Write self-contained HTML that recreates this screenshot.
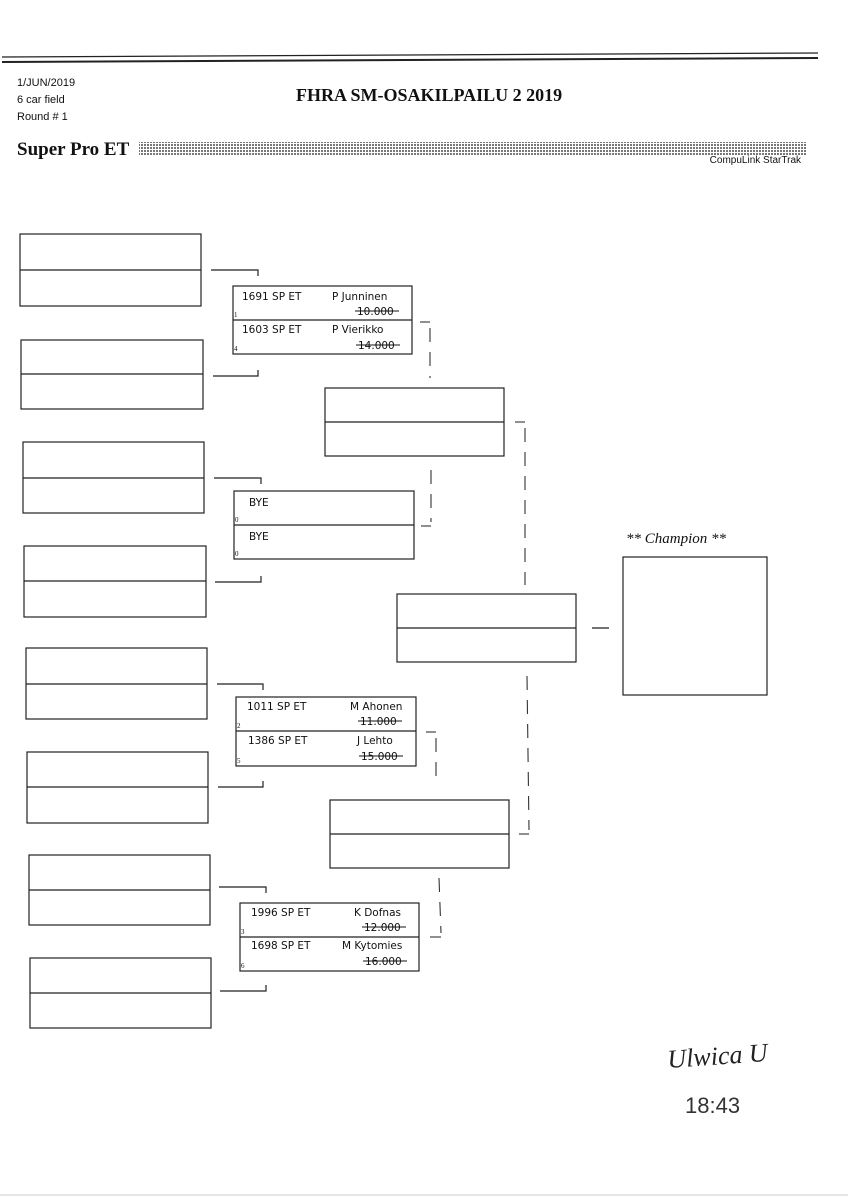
<!DOCTYPE html>
<html><head><meta charset="utf-8"><style>
html,body{margin:0;padding:0;background:#fff;}
svg{display:block}
</style></head><body>
<svg width="848" height="1200" viewBox="0 0 848 1200" xmlns="http://www.w3.org/2000/svg">
<defs>
<pattern id="dots" width="3" height="3" patternUnits="userSpaceOnUse"><rect width="3" height="3" fill="#fff"/><rect width="2" height="2" fill="#777"/></pattern>
</defs>
<rect width="848" height="1200" fill="#fff"/>
<line x1="2" y1="57" x2="818" y2="53" stroke="#222" stroke-width="1.2"/>
<line x1="2" y1="62" x2="818" y2="58" stroke="#222" stroke-width="2"/>
<g font-family="Liberation Sans Narrow, Liberation Sans, sans-serif" font-size="11" fill="#111">
<text x="17" y="86">1/JUN/2019</text>
<text x="17" y="103">6 car field</text>
<text x="17" y="120">Round # 1</text>
<text x="801" y="163" font-size="10" text-anchor="end">CompuLink StarTrak</text>
</g>
<text x="296" y="101" font-family="Liberation Serif, serif" font-weight="bold" font-size="18" fill="#111">FHRA SM-OSAKILPAILU 2 2019</text>
<text x="17" y="155" font-family="Liberation Serif, serif" font-weight="bold" font-size="19" fill="#111">Super Pro ET</text>
<rect x="139" y="142" width="668" height="13" fill="url(#dots)"/>

<g fill="none" stroke="#222" stroke-width="1.2">
<rect x="20" y="234" width="181" height="72"/><line x1="20" y1="270" x2="201" y2="270"/>
<rect x="21" y="340" width="182" height="69"/><line x1="21" y1="374" x2="203" y2="374"/>
<rect x="23" y="442" width="181" height="71"/><line x1="23" y1="478" x2="204" y2="478"/>
<rect x="24" y="546" width="182" height="71"/><line x1="24" y1="581" x2="206" y2="581"/>
<rect x="26" y="648" width="181" height="71"/><line x1="26" y1="684" x2="207" y2="684"/>
<rect x="27" y="752" width="181" height="71"/><line x1="27" y1="787" x2="208" y2="787"/>
<rect x="29" y="855" width="181" height="70"/><line x1="29" y1="890" x2="210" y2="890"/>
<rect x="30" y="958" width="181" height="70"/><line x1="30" y1="993" x2="211" y2="993"/>
<polyline points="211,270 258,270 258,276"/>
<polyline points="213,376 258,376 258,370"/>
<polyline points="214,478 261,478 261,484"/>
<polyline points="215,582 261,582 261,576"/>
<polyline points="217,684 263,684 263,690"/>
<polyline points="218,787 263,787 263,781"/>
<polyline points="219,887 266,887 266,893"/>
<polyline points="220,991 266,991 266,985"/>
<rect x="233" y="286" width="179" height="68"/><line x1="233" y1="320" x2="412" y2="320"/>
<rect x="234" y="491" width="180" height="68"/><line x1="234" y1="525" x2="414" y2="525"/>
<rect x="236" y="697" width="180" height="69"/><line x1="236" y1="731" x2="416" y2="731"/>
<rect x="240" y="903" width="179" height="68"/><line x1="240" y1="937" x2="419" y2="937"/>
<rect x="325" y="388" width="179" height="68"/><line x1="325" y1="422" x2="504" y2="422"/>
<rect x="330" y="800" width="179" height="68"/><line x1="330" y1="834" x2="509" y2="834"/>
<rect x="397" y="594" width="179" height="68"/><line x1="397" y1="628" x2="576" y2="628"/>
<line x1="592" y1="628" x2="609" y2="628"/>
<rect x="623" y="557" width="144" height="138"/>
</g>
<g fill="none" stroke="#333" stroke-width="1.1">
<line x1="420" y1="322" x2="430" y2="322"/>
<line x1="421" y1="526" x2="431" y2="526"/>
<line x1="515" y1="422" x2="525" y2="422"/>
<line x1="519" y1="834" x2="529" y2="834"/>
<line x1="426" y1="732" x2="436" y2="732"/>
<line x1="430" y1="937" x2="441" y2="937"/>
</g>
<g fill="none" stroke="#333" stroke-width="1.1" stroke-dasharray="14 10">
<line x1="430" y1="328" x2="430" y2="378"/>
<line x1="431" y1="470" x2="431" y2="522"/>
<line x1="525" y1="428" x2="525" y2="585"/>
<line x1="527" y1="676" x2="529" y2="830"/>
<line x1="436" y1="738" x2="436" y2="782"/>
<line x1="439" y1="878" x2="441" y2="933"/>
</g>
<g font-family="DejaVu Sans, sans-serif" font-size="10.5" fill="#111">
<text x="242" y="300">1691  SP  ET</text><text x="332" y="300">P  Junninen</text>
<text x="357" y="315">10.000</text><line x1="355" y1="311" x2="399" y2="311" stroke="#111"/>
<text x="242" y="333">1603  SP  ET</text><text x="332" y="333">P  Vierikko</text>
<text x="358" y="349">14.000</text><line x1="356" y1="345" x2="400" y2="345" stroke="#111"/>
<text x="249" y="506">BYE</text><text x="249" y="540">BYE</text>
<text x="247" y="710">1011  SP  ET</text><text x="350" y="710">M  Ahonen</text>
<text x="360" y="725">11.000</text><line x1="358" y1="721" x2="402" y2="721" stroke="#111"/>
<text x="248" y="744">1386  SP  ET</text><text x="357" y="744">J  Lehto</text>
<text x="361" y="760">15.000</text><line x1="359" y1="756" x2="403" y2="756" stroke="#111"/>
<text x="251" y="916">1996  SP  ET</text><text x="354" y="916">K  Dofnas</text>
<text x="364" y="931">12.000</text><line x1="362" y1="927" x2="406" y2="927" stroke="#111"/>
<text x="251" y="949">1698  SP  ET</text><text x="342" y="949">M  Kytomies</text>
<text x="365" y="965">16.000</text><line x1="363" y1="961" x2="407" y2="961" stroke="#111"/>
</g>
<g font-family="Liberation Serif, serif" font-size="7" fill="#111">
<text x="234" y="317">1</text><text x="234" y="351">4</text>
<text x="235" y="522">0</text><text x="235" y="556">0</text>
<text x="237" y="728">2</text><text x="237" y="763">5</text>
<text x="241" y="934">3</text><text x="241" y="968">6</text>
</g>
<text x="626" y="543" font-family="Liberation Serif, serif" font-style="italic" font-size="15" fill="#111">** Champion **</text>
<text x="668" y="1068" font-family="Liberation Serif, serif" font-style="italic" font-size="26" fill="#222" transform="rotate(-4 668 1068)">Ulwica U</text>
<text x="685" y="1113" font-family="Liberation Sans Narrow, Liberation Sans, sans-serif" font-size="22" fill="#333">18:43</text>
<line x1="0" y1="1195" x2="848" y2="1195" stroke="#ccc" stroke-width="1"/>
</svg>
</body></html>
